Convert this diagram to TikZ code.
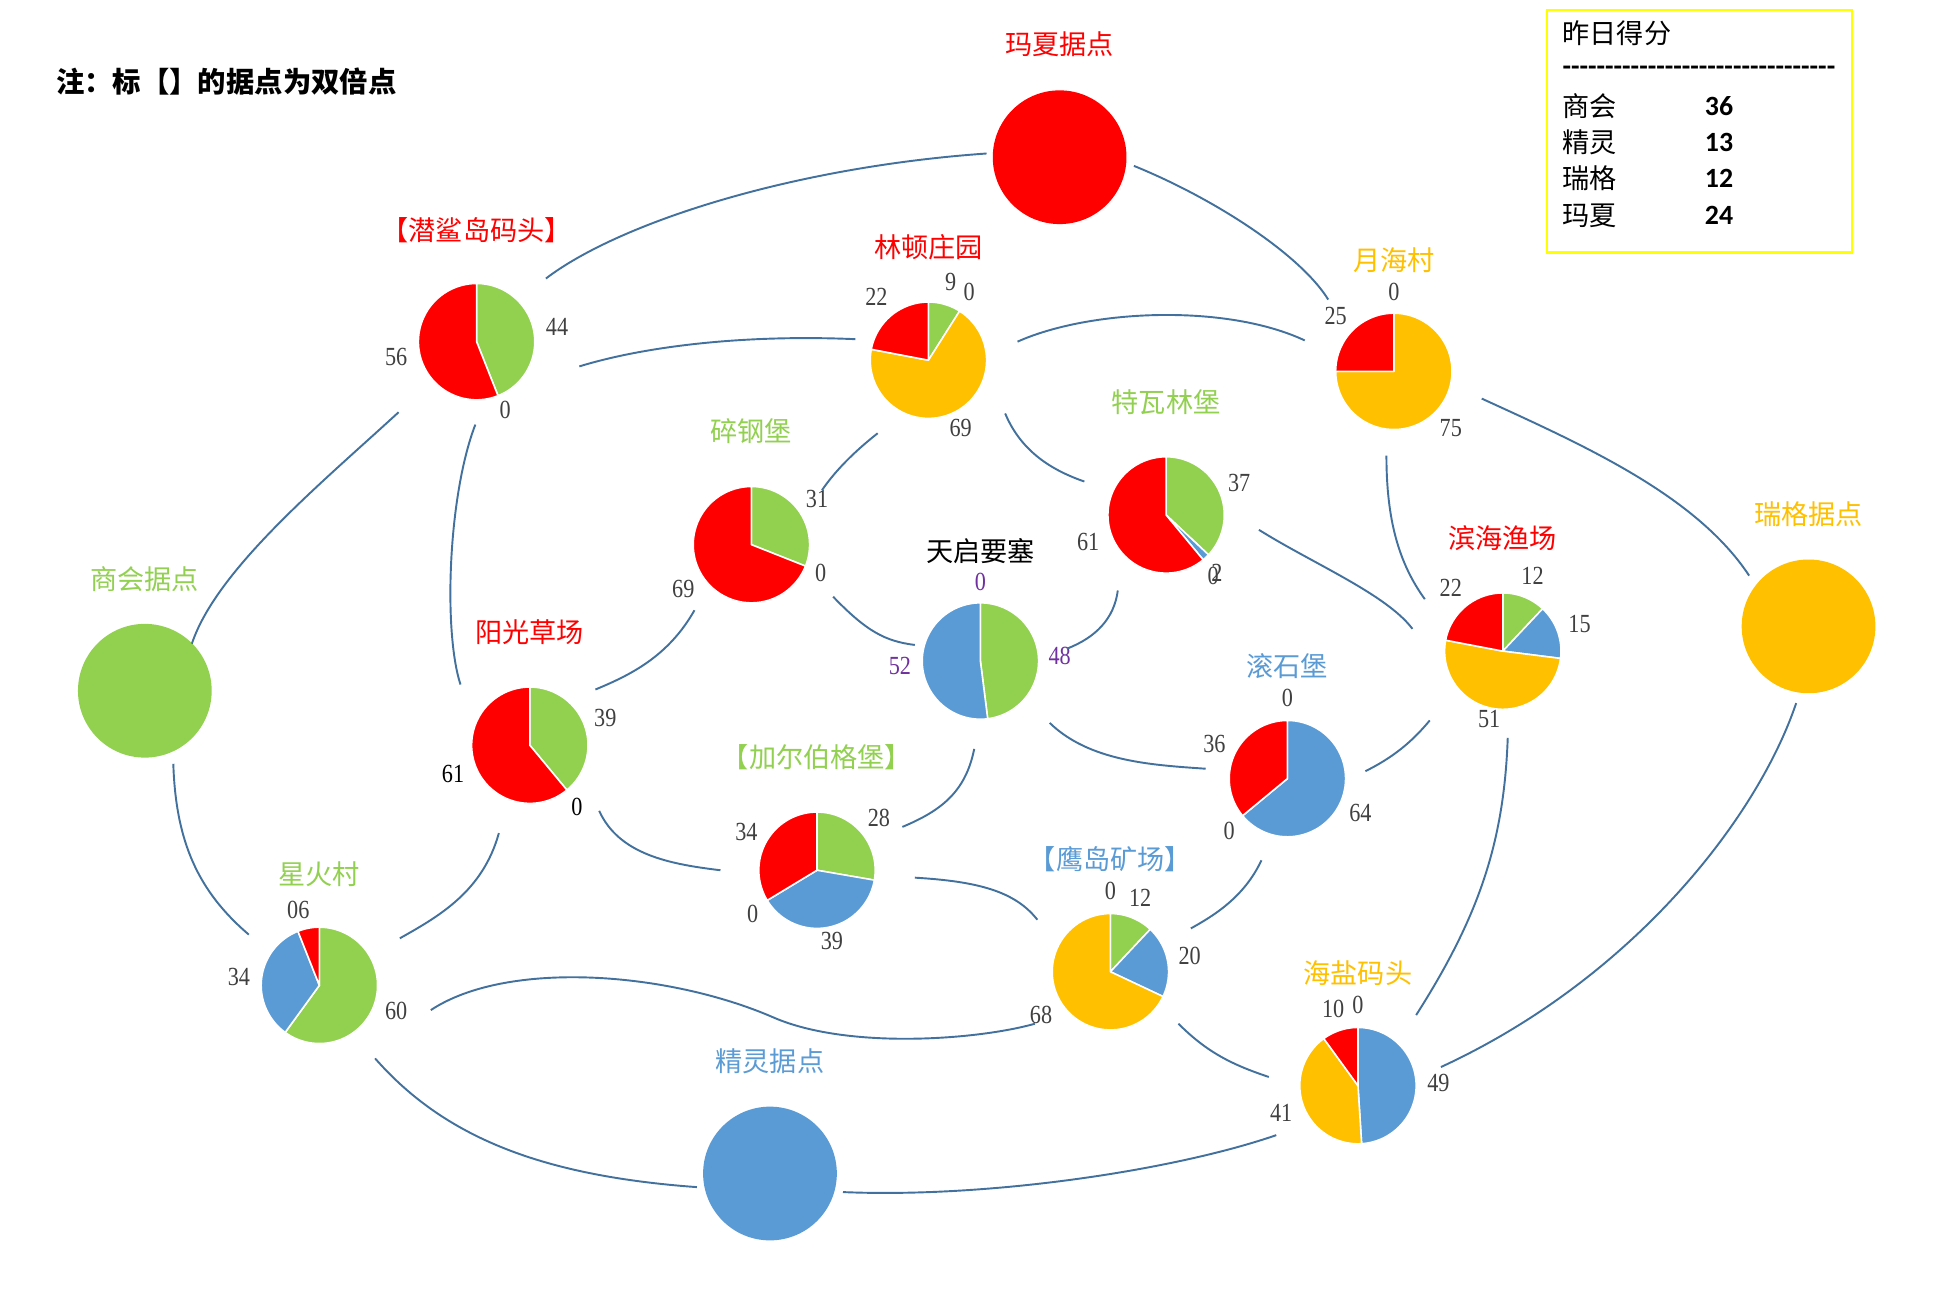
\documentclass[tikz,border=0pt]{standalone}
\usepackage{fontspec}
\setmainfont{Noto Sans CJK SC}
\newfontfamily\numf{Liberation Serif}[FakeStretch=0.85]
\newfontfamily\tabf{Carlito}
\definecolor{cred}{HTML}{FF0000}
\definecolor{cgreen}{HTML}{92D050}
\definecolor{cblue}{HTML}{5B9BD5}
\definecolor{cyellow}{HTML}{FFC000}
\definecolor{linkc}{HTML}{41719C}
\definecolor{numc}{HTML}{404040}
\definecolor{cpurple}{HTML}{7030A0}
\definecolor{boxc}{HTML}{FFFF00}
\newcommand\pieR{47}
\newcommand\pieslice[5]{\filldraw[slicest,fill=#5] (#1,#2) -- plot[domain={3.6*#3}:{3.6*#4},samples=60] ({#1+\pieR*sin(\x)},{#2-\pieR*cos(\x)}) -- cycle;}
\tikzset{
  lab/.style={font=\fontsize{15.6}{18}\selectfont, inner sep=0},
  num/.style={font=\numf\fontsize{15}{16}\selectfont, text=numc, inner sep=0},
  link/.style={draw=linkc, line width=1.1pt},
  slicest/.style={draw=white, line width=0.9pt, line join=round},
  bigc/.style={circle, inner sep=0, minimum size=2.7cm},
  tabt/.style={font=\fontsize{15.6}{18}\selectfont, inner sep=0, anchor=west},
  tabn/.style={font=\tabf\bfseries\fontsize{16}{18}\selectfont, inner sep=0, anchor=west}
}
\begin{document}
\begin{tikzpicture}[x=0.025cm,y=-0.025cm]
\useasboundingbox (0,0) rectangle (1568,1045);
\fill[white] (0,0) rectangle (1568,1045);

% note
\node[tabt, font=\bfseries\fontsize{16.3}{18}\selectfont] (note) at (45,66) {注：标【】的据点为双倍点};

% score box
\draw[boxc, line width=1.3pt] (1250,8) rectangle (1496,204);
\node[tabt] (ttl) at (1262,27) {昨日得分};
\node[tabn] (dash) at (1262,57) {--------------------------------};
\node[tabt] (r1) at (1262,86) {商会};  \node[tabn] (v1) at (1377,86) {36};
\node[tabt] (r2) at (1262,115) {精灵}; \node[tabn] (v2) at (1377,115) {13};
\node[tabt] (r3) at (1262,144) {瑞格}; \node[tabn] (v3) at (1377,144) {12};
\node[tabt] (r4) at (1262,174) {玛夏}; \node[tabn] (v4) at (1377,174) {24};

% big circles
\node[bigc, fill=cred] (maxia) at (856,127) {};
\node[bigc, fill=cyellow] (ruige) at (1461,506) {};
\node[bigc, fill=cgreen] (shanghui) at (117,558) {};
\node[bigc, fill=cblue] (jingling) at (622,948) {};
\node[lab, text=cred] (maxiaL) at (856,36) {玛夏据点};
\node[lab, text=cyellow] (ruigeL) at (1461,415) {瑞格据点};
\node[lab, text=cgreen] (shanghuiL) at (117,468) {商会据点};
\node[lab, text=cblue] (jinglingL) at (622,857) {精灵据点};

% pie centres
\coordinate (qs) at (385,276);
\coordinate (ld) at (750,291);
\coordinate (yh) at (1126,300);
\coordinate (sg) at (607,440);
\coordinate (tw) at (942,416);
\coordinate (tq) at (792,534);
\coordinate (yg) at (428,602);
\coordinate (gs) at (1040,629);
\coordinate (bh) at (1214,526);
\coordinate (je) at (660,703);
\coordinate (yd) at (897,785);
\coordinate (xh) at (258,796);
\coordinate (hy) at (1097,877);

% pies
\pieslice{385}{276}{0}{44}{cgreen}\pieslice{385}{276}{44}{100}{cred}
\pieslice{750}{291}{0}{9}{cgreen}\pieslice{750}{291}{9}{78}{cyellow}\pieslice{750}{291}{78}{100}{cred}
\pieslice{1126}{300}{0}{75}{cyellow}\pieslice{1126}{300}{75}{100}{cred}
\pieslice{607}{440}{0}{31}{cgreen}\pieslice{607}{440}{31}{100}{cred}
\pieslice{942}{416}{0}{37}{cgreen}\pieslice{942}{416}{37}{39}{cblue}\pieslice{942}{416}{39}{100}{cred}
\pieslice{792}{534}{0}{48}{cgreen}\pieslice{792}{534}{48}{100}{cblue}
\pieslice{428}{602}{0}{39}{cgreen}\pieslice{428}{602}{39}{100}{cred}
\pieslice{1040}{629}{0}{64}{cblue}\pieslice{1040}{629}{64}{100}{cred}
\pieslice{1214}{526}{0}{12}{cgreen}\pieslice{1214}{526}{12}{27}{cblue}\pieslice{1214}{526}{27}{78}{cyellow}\pieslice{1214}{526}{78}{100}{cred}
\pieslice{660}{703}{0}{27.72}{cgreen}\pieslice{660}{703}{27.72}{66.34}{cblue}\pieslice{660}{703}{66.34}{100}{cred}
\pieslice{897}{785}{0}{12}{cgreen}\pieslice{897}{785}{12}{32}{cblue}\pieslice{897}{785}{32}{100}{cyellow}
\pieslice{258}{796}{0}{60}{cgreen}\pieslice{258}{796}{60}{94}{cblue}\pieslice{258}{796}{94}{100}{cred}
\pieslice{1097}{877}{0}{49}{cblue}\pieslice{1097}{877}{49}{90}{cyellow}\pieslice{1097}{877}{90}{100}{cred}

% pie titles
\node[lab, text=cred] (qsL) at (385,186) {【潜鲨岛码头】};
\node[lab, text=cred] (ldL) at (750,200) {林顿庄园};
\node[lab, text=cyellow] (yhL) at (1126,210) {月海村};
\node[lab, text=cgreen] (sgL) at (607,348) {碎钢堡};
\node[lab, text=cgreen] (twL) at (942,325) {特瓦林堡};
\node[lab, text=black] (tqL) at (792,445) {天启要塞};
\node[lab, text=cred] (ygL) at (428,511) {阳光草场};
\node[lab, text=cblue] (gsL) at (1040,538) {滚石堡};
\node[lab, text=cred] (bhL) at (1214,435) {滨海渔场};
\node[lab, text=cgreen] (jeL) at (660,612) {【加尔伯格堡】};
\node[lab, text=cblue] (ydL) at (897,694) {【鹰岛矿场】};
\node[lab, text=cgreen] (xhL) at (258,706) {星火村};
\node[lab, text=cyellow] (hyL) at (1097,786) {海盐码头};

% data labels
\node[num] (qs1) at (450,264) {44}; \node[num] (qs2) at (320,288) {56}; \node[num] (qs3) at (408,331) {0};
\node[num] (ld1) at (708,240) {22}; \node[num] (ld2) at (768,228) {9}; \node[num] (ld3) at (783,236) {0}; \node[num] (ld4) at (776,346) {69};
\node[num] (yh1) at (1126,236) {0}; \node[num] (yh2) at (1079,255) {25}; \node[num] (yh3) at (1172,346) {75};
\node[num] (sg1) at (660,403) {31}; \node[num] (sg2) at (663,463) {0}; \node[num] (sg3) at (552,476) {69};
\node[num] (tw1) at (1001,390) {37}; \node[num] (tw2) at (879,438) {61}; \node[num] (tw3) at (980,465) {0}; \node[num] (tw4) at (983,463) {2};
\node[num, text=cpurple] (tq1) at (792,470) {0}; \node[num, text=cpurple] (tq2) at (727,538) {52}; \node[num, text=cpurple] (tq3) at (856,530) {48};
\node[num] (yg1) at (489,580) {39}; \node[num, text=black] (yg2) at (366,625) {61}; \node[num, text=black] (yg3) at (466,652) {0};
\node[num] (gs1) at (1040,564) {0}; \node[num] (gs2) at (981,601) {36}; \node[num] (gs3) at (1099,657) {64}; \node[num] (gs4) at (993,671) {0};
\node[num] (bh1) at (1172,475) {22}; \node[num] (bh2) at (1238,465) {12}; \node[num] (bh3) at (1276,504) {15}; \node[num] (bh4) at (1203,581) {51};
\node[num] (je1) at (603,672) {34}; \node[num] (je2) at (710,661) {28}; \node[num] (je3) at (608,738) {0}; \node[num] (je4) at (672,760) {39};
\node[num] (yd1) at (897,720) {0}; \node[num] (yd2) at (921,725) {12}; \node[num] (yd3) at (961,772) {20}; \node[num] (yd4) at (841,820) {68};
\node[num] (xh1) at (241,735) {06}; \node[num] (xh2) at (193,789) {34}; \node[num] (xh3) at (320,817) {60};
\node[num] (hy1) at (1077,815) {10}; \node[num] (hy2) at (1097,812) {0}; \node[num] (hy3) at (1162,875) {49}; \node[num] (hy4) at (1035,899) {41};

% connectors
\draw[link] ([shift={(56,-51)}]qs) .. controls (500,180) and (640,135) .. ([shift={(-59,-3)}]maxia.center);
\draw[link] ([shift={(60,7)}]maxia.center) .. controls (980,160) and (1050,205) .. ([shift={(-53,-58)}]yh);
\draw[link] ([shift={(83,20)}]qs) .. controls (520,280) and (600,270) .. ([shift={(-59,-17)}]ld);
\draw[link] ([shift={(72,-15)}]ld) .. controls (880,250) and (990,245) .. ([shift={(-72,-25)}]yh);
\draw[link] ([shift={(-63,57)}]qs) .. controls (260,390) and (175,460) .. ([shift={(38,-38)}]shanghui.center);
\draw[link] ([shift={(-1,67)}]qs) .. controls (362,400) and (358,510) .. ([shift={(-56,-49)}]yg);
\draw[link] ([shift={(-41,59)}]ld) .. controls (690,365) and (675,380) .. ([shift={(57,-44)}]sg);
\draw[link] ([shift={(62,43)}]ld) .. controls (825,365) and (850,380) .. ([shift={(-66,-27)}]tw);
\draw[link] ([shift={(71,22)}]yh) .. controls (1280,360) and (1370,400) .. ([shift={(-48,-41)}]ruige.center);
\draw[link] ([shift={(-6,68)}]yh) .. controls (1120,420) and (1130,455) .. ([shift={(-63,-42)}]bh);
\draw[link] ([shift={(75,12)}]tw) .. controls (1060,455) and (1120,480) .. ([shift={(-73,-18)}]bh);
\draw[link] ([shift={(-39,61)}]tw) .. controls (900,500) and (885,515) .. ([shift={(70,-10)}]tq);
\draw[link] ([shift={(66,42)}]sg) .. controls (700,510) and (715,518) .. ([shift={(-53,-13)}]tq);
\draw[link] ([shift={(-46,53)}]sg) .. controls (540,530) and (510,545) .. ([shift={(53,-45)}]yg);
\draw[link] ([shift={(23,59)}]shanghui.center) .. controls (142,680) and (160,720) .. ([shift={(-57,-41)}]xh);
\draw[link] ([shift={(-25,71)}]yg) .. controls (390,720) and (355,740) .. ([shift={(65,-38)}]xh);
\draw[link] ([shift={(56,53)}]yg) .. controls (500,690) and (540,698) .. ([shift={(-78,0)}]je);
\draw[link] ([shift={(-5,71)}]tq) .. controls (780,640) and (760,655) .. ([shift={(69,-35)}]je);
\draw[link] ([shift={(56,50)}]tq) .. controls (880,615) and (930,618) .. ([shift={(-66,-8)}]gs);
\draw[link] ([shift={(63,-6)}]gs) .. controls (1125,612) and (1140,600) .. ([shift={(-59,56)}]bh);
\draw[link] ([shift={(79,6)}]je) .. controls (790,712) and (820,720) .. ([shift={(-59,-42)}]yd);
\draw[link] ([shift={(-21,66)}]gs) .. controls (1005,725) and (980,740) .. ([shift={(65,-35)}]yd);
\coordinate (xhydm) at (625,822);
\draw[link] ([shift={(90,20)}]xh) .. controls (410,775) and (540,785) .. (xhydm) .. controls (685,848) and (790,840) .. ([shift={(-61,42)}]yd);
\draw[link] ([shift={(55,42)}]yd) .. controls (975,850) and (995,860) .. ([shift={(-72,-7)}]hy);
\draw[link] ([shift={(4,70)}]bh) .. controls (1215,680) and (1195,740) .. ([shift={(47,-57)}]hy);
\draw[link] ([shift={(-10,62)}]ruige.center) .. controls (1420,660) and (1320,790) .. ([shift={(67,-15)}]hy);
\draw[link] ([shift={(45,59)}]xh) .. controls (360,920) and (440,950) .. ([shift={(-59,11)}]jingling.center);
\draw[link] ([shift={(59,15)}]jingling.center) .. controls (800,968) and (950,945) .. ([shift={(-66,40)}]hy);
\end{tikzpicture}
\end{document}
